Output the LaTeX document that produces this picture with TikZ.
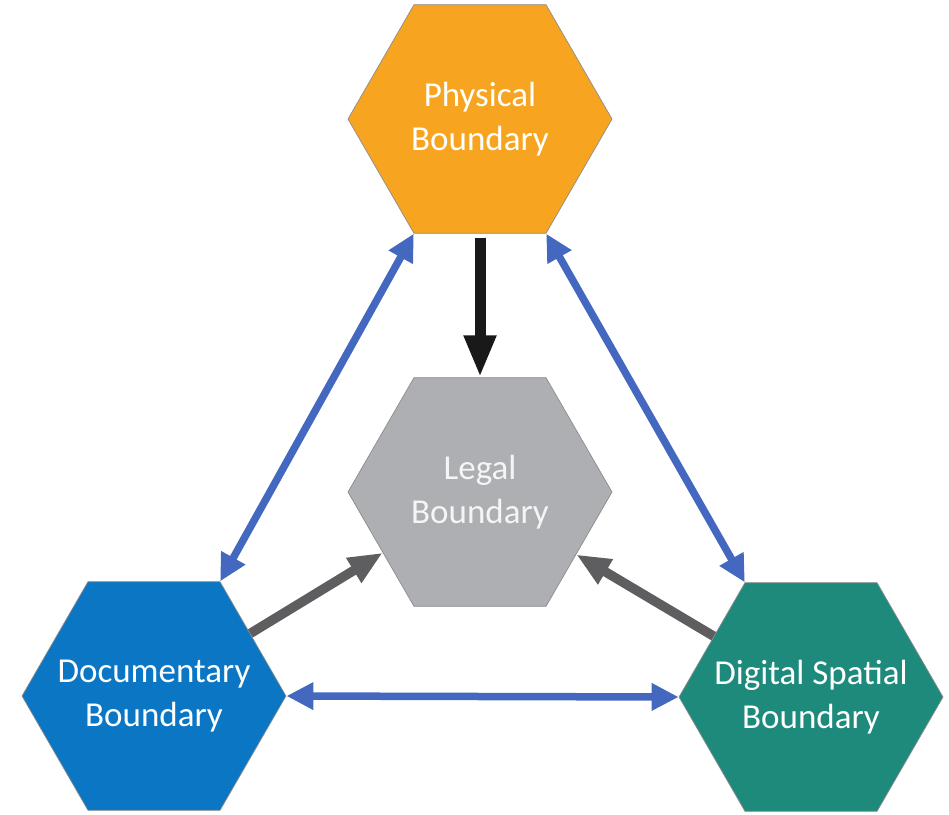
\documentclass[tikz,border=0pt]{standalone}
\usepackage{fontspec}
\setmainfont{Carlito}
\usetikzlibrary{shapes.geometric,arrows.meta}
\definecolor{physc}{HTML}{F7A521}
\definecolor{docc}{HTML}{0A76C4}
\definecolor{digc}{HTML}{1D8A7B}
\definecolor{legc}{HTML}{AEAFB2}
\definecolor{bluearr}{HTML}{4468C0}
\definecolor{grayarr}{HTML}{5E5E60}
\tikzset{
  hexa/.style={regular polygon, regular polygon sides=6,
    minimum size=264pt, inner sep=-30pt, draw=black!45, line width=0.7pt,
    text=white, align=center, font=\fontsize{35}{44}\selectfont},
  bluelink/.style={draw=bluearr, line width=7.5pt,
    {Triangle[length=27pt,width=26pt]}-{Triangle[length=27pt,width=26pt]}},
  blacklink/.style={draw=black!90, line width=11pt, -{Triangle[length=42pt,width=30pt]}},
  graylink/.style={draw=grayarr, line width=9.5pt, -{Triangle[length=34pt,width=27pt]}}
}
\begin{document}
\begin{tikzpicture}[x=1pt,y=-1pt]
\useasboundingbox (0,0) rectangle (949,814);
\node[hexa, fill=physc] (phys) at (480,119) {Physical\\Boundary};
\node[hexa, fill=legc, text=white!92!gray] (legal) at (480,492) {Legal\\Boundary};
\node[hexa, fill=docc] (doc) at (154,696) {Documentary\\Boundary};
\node[hexa, fill=digc] (dig) at (811,697) {Digital Spatial\\Boundary};
\draw[bluelink] (phys.240) -- (doc.60);
\draw[bluelink] (phys.300) -- (dig.120);
\draw[bluelink] (doc.0) -- (dig.180);
\draw[blacklink, shorten <=4pt] (phys.south) -- (legal.north);
\draw[graylink] (doc.33) -- (legal.212);
\draw[graylink] (dig.148) -- (legal.327);
\end{tikzpicture}
\end{document}
